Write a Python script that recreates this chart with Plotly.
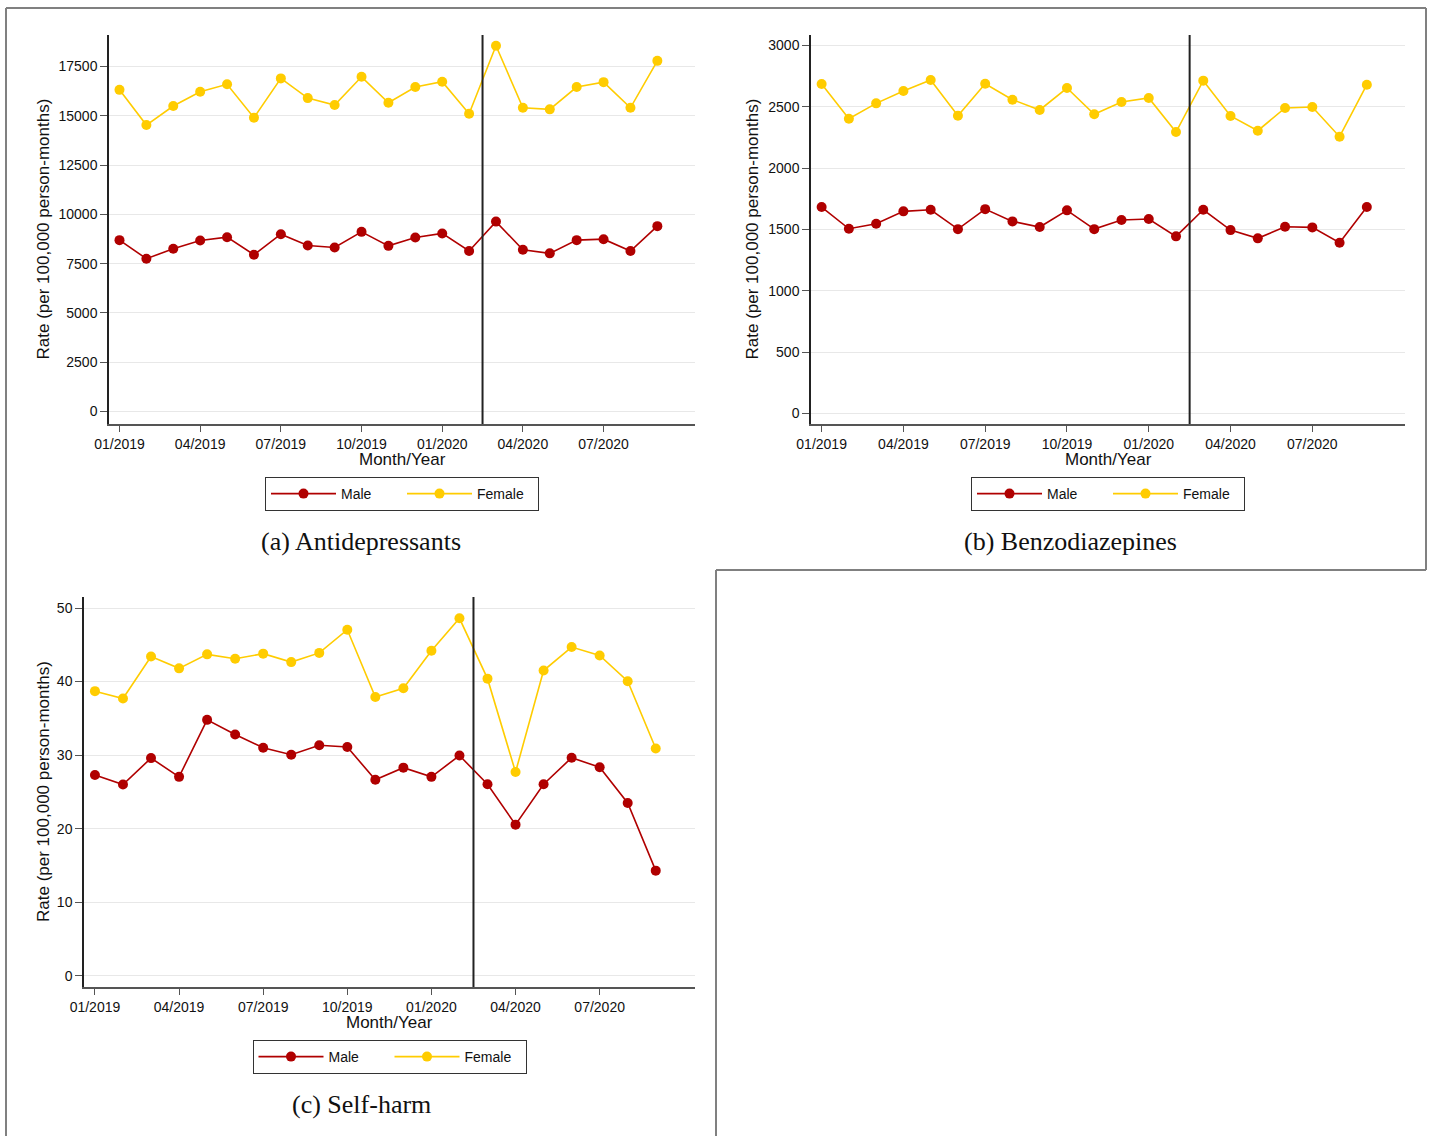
import plotly.graph_objects as go

# Monthly periods (Jan 2019 - Sep 2020)
months = ["01/2019", "02/2019", "03/2019", "04/2019", "05/2019", "06/2019",
          "07/2019", "08/2019", "09/2019", "10/2019", "11/2019", "12/2019",
          "01/2020", "02/2020", "03/2020", "04/2020", "05/2020", "06/2020",
          "07/2020", "08/2020", "09/2020"]
tick_months = ["01/2019", "04/2019", "07/2019", "10/2019",
               "01/2020", "04/2020", "07/2020"]

# Antidepressants (rate per 100,000 person-months)
antidep_male = [8690, 7750, 8250, 8670, 8840, 7950, 8990, 8420, 8320, 9110, 8400,
                8825, 9030, 8140, 9630, 8200, 8020, 8690, 8740, 8140, 9400]
antidep_female = [16310, 14525, 15490, 16210, 16590, 14900, 16890, 15890, 15540, 16970, 15655,
                  16450, 16720, 15100, 18545, 15400, 15320, 16450, 16700, 15400, 17780]

# Benzodiazepines
benzo_male = [1682, 1505, 1546, 1647, 1660, 1502, 1665, 1565, 1519, 1655, 1502,
              1576, 1584, 1443, 1660, 1494, 1427, 1521, 1516, 1391, 1682]
benzo_female = [2685, 2402, 2527, 2628, 2717, 2426, 2687, 2557, 2473, 2652, 2438,
                2538, 2571, 2293, 2712, 2424, 2304, 2489, 2497, 2255, 2679]

# Self-harm
selfharm_male = [27.3, 26.0, 29.6, 27.05, 34.8, 32.8, 31.0, 30.05, 31.35, 31.1, 26.65,
                 28.3, 27.05, 29.95, 26.05, 20.55, 26.05, 29.65, 28.35, 23.5, 14.3]
selfharm_female = [38.7, 37.7, 43.4, 41.8, 43.7, 43.1, 43.8, 42.65, 43.9, 47.05, 37.9,
                   39.1, 44.2, 48.6, 40.4, 27.7, 41.5, 44.7, 43.55, 40.05, 30.9]

panel_titles = ["(a) Antidepressants", "(b) Benzodiazepines", "(c) Self-harm"]
y_ticks = [
    [0, 2500, 5000, 7500, 10000, 12500, 15000, 17500],
    [0, 500, 1000, 1500, 2000, 2500, 3000],
    [0, 10, 20, 30, 40, 50],
]

W, H = 1433, 1136
MALE_C = "#b00000"
FEMALE_C = "#ffcc00"
FONT = "Liberation Sans, Arial, sans-serif"
SERIF = "Liberation Serif, Times New Roman, serif"


def px(x):
    return x / W


def py(y):
    return 1 - y / H


# Plot-area geometry for each panel (pixels): left, right, top, bottom,
# plus where the y title and the caption sit
panels = [
    dict(l=109, r=695, t=35, b=424, yrange=[-630, 19090], ytx=43, capx=361),
    dict(l=811, r=1405, t=35, b=424, yrange=[-86, 3084], ytx=752, capx=1070),
    dict(l=84, r=695, t=597, b=987, yrange=[-1.52, 51.5], ytx=43, capx=361),
]
series = [
    (antidep_male, antidep_female),
    (benzo_male, benzo_female),
    (selfharm_male, selfharm_female),
]

fig = go.Figure()
annotations = []
shapes = []

for i, (p, (male, female), title, yt) in enumerate(zip(panels, series, panel_titles, y_ticks)):
    sfx = "" if i == 0 else str(i + 1)
    xa, ya = "x" + sfx, "y" + sfx
    leg = "legend" if i == 0 else "legend" + str(i + 1)

    fig.add_trace(go.Scatter(
        x=months, y=male, mode="lines+markers", name="Male",
        line=dict(color=MALE_C, width=1.6), marker=dict(color=MALE_C, size=10),
        xaxis=xa, yaxis=ya, legend=leg))
    fig.add_trace(go.Scatter(
        x=months, y=female, mode="lines+markers", name="Female",
        line=dict(color=FEMALE_C, width=1.6), marker=dict(color=FEMALE_C, size=10),
        xaxis=xa, yaxis=ya, legend=leg))

    fig.update_layout(**{
        "xaxis" + sfx: dict(
            domain=[px(p["l"]), px(p["r"])], anchor=ya, type="category",
            categoryorder="array", categoryarray=months,
            range=[-0.39, 21.4], tickmode="array", tickvals=tick_months,
            ticks="outside", ticklen=6, tickcolor="#555", tickwidth=1,
            showline=True, linecolor="#555", linewidth=1.5,
            showgrid=False, zeroline=False, automargin=False,
            tickfont=dict(family=FONT, size=14, color="#111"),
        ),
        "yaxis" + sfx: dict(
            domain=[py(p["b"]), py(p["t"])], anchor=xa,
            range=p["yrange"], tickmode="array", tickvals=yt, tickformat="d",
            ticks="outside", ticklen=7, tickcolor="#555", tickwidth=1,
            showline=True, linecolor="#222", linewidth=1.5,
            showgrid=True, gridcolor="#e8e8e8", gridwidth=1, zeroline=False,
            automargin=False,
            tickfont=dict(family=FONT, size=14, color="#111"),
        ),
        leg: dict(
            orientation="h", x=px((p["l"] + p["r"]) / 2), xanchor="center",
            y=py(p["b"] + 53), yanchor="top",
            bordercolor="#333", borderwidth=1, bgcolor="white",
            font=dict(family=FONT, size=14, color="#111"),
            itemwidth=65, entrywidth=56, tracegroupgap=0,
        ),
    })

    # Vertical marker between 02/2020 and 03/2020
    shapes.append(dict(type="line", xref=xa, yref=ya + " domain",
                       x0=13.5, x1=13.5, y0=0, y1=1,
                       line=dict(color="#222", width=2)))

    cx = (p["l"] + p["r"]) / 2
    annotations.append(dict(text="Month/Year", xref="paper", yref="paper",
                            x=px(cx), y=py(p["b"] + 35), xanchor="center", yanchor="middle",
                            showarrow=False, font=dict(family=FONT, size=17, color="#111")))
    annotations.append(dict(text="Rate (per 100,000 person-months)", xref="paper", yref="paper",
                            x=px(p["ytx"]), y=py((p["t"] + p["b"]) / 2),
                            xanchor="center", yanchor="middle", textangle=-90,
                            showarrow=False, font=dict(family=FONT, size=17, color="#111")))
    annotations.append(dict(text=title, xref="paper", yref="paper",
                            x=px(p["capx"]), y=py(p["b"] + 117),
                            xanchor="center", yanchor="middle",
                            showarrow=False, font=dict(family=SERIF, size=26, color="#111")))

# Outer frame around the sub-figures
frame = "#808080"
for x0, y0, x1, y1 in [(6, 8, 1426, 8), (1426, 8, 1426, 570), (716, 570, 1426, 570),
                       (716, 570, 716, 1136), (6, 8, 6, 1136)]:
    shapes.append(dict(type="line", xref="paper", yref="paper",
                       x0=px(x0), y0=py(y0), x1=px(x1), y1=py(y1),
                       line=dict(color=frame, width=2)))

fig.update_layout(
    width=W, height=H, margin=dict(l=0, r=0, t=0, b=0, autoexpand=False),
    paper_bgcolor="white", plot_bgcolor="white",
    shapes=shapes, annotations=annotations,
    font=dict(family=FONT, color="#111"),
)

fig.write_html("out.html")
